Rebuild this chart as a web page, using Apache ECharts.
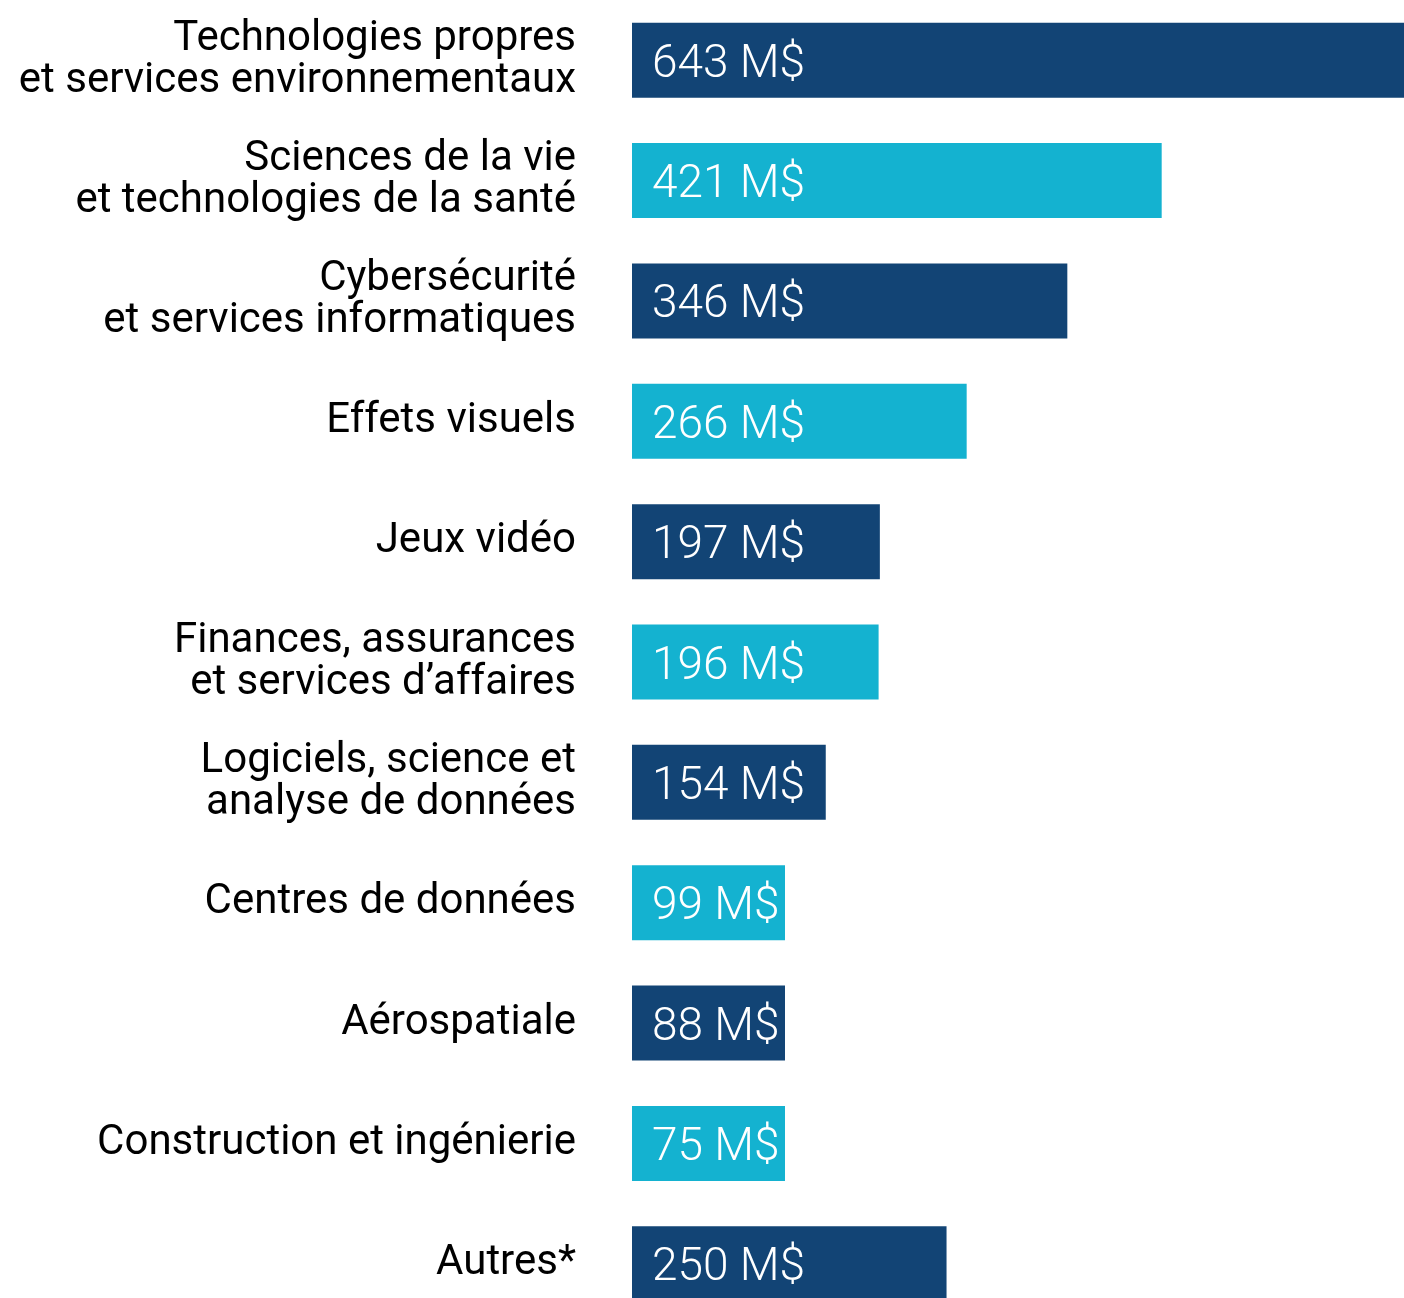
<!DOCTYPE html>
<html>
<head>
<meta charset="utf-8">
<script src="https://cdn.jsdelivr.net/npm/echarts@6/dist/echarts.min.js"></script>
<style>
  html, body { margin: 0; padding: 0; background: #fff; }
  #chart { width: 1404px; height: 1298px; }
</style>
</head>
<body>
<div id="chart"></div>
<script>
const categories = [
    'Technologies propres\net services environnementaux',
    'Sciences de la vie\net technologies de la santé',
    'Cybersécurité\net services informatiques',
    'Effets visuels',
    'Jeux vidéo',
    'Finances, assurances\net services d’affaires',
    'Logiciels, science et\nanalyse de données',
    'Centres de données',
    'Aérospatiale',
    'Construction et ingénierie',
    'Autres*'
];
const values = [643, 421, 346, 266, 197, 196, 154, 99, 88, 75, 250];
const unit = ' M$';

const barColors = ['#124475', '#14b2d0'];

const chart = echarts.init(document.getElementById('chart'));

chart.setOption({
    backgroundColor: '#fff',
    animation: false,
    grid: {
        left: 632,
        top: 0,
        width: 809,
        height: 1324,
        containLabel: false,
        outerBoundsMode: 'none'
    },
    xAxis: {
        type: 'value',
        min: 0,
        max: 643,
        show: false
    },
    yAxis: {
        type: 'category',
        inverse: true,
        data: categories,
        axisLine: { show: false },
        axisTick: { show: false },
        axisLabel: {
            margin: 56,
            color: '#000',
            fontFamily: 'Roboto',
            fontSize: 42,
            lineHeight: 42,
            align: 'right',
            padding: [8, 0, 0, 0]
        }
    },
    series: [{
        type: 'bar',
        barWidth: 75,
        barMinHeight: 153,
        data: values.map((v, i) => ({
            value: v,
            itemStyle: { color: barColors[i % 2] }
        })),
        label: {
            show: true,
            position: 'insideLeft',
            distance: 20,
            offset: [0, 5],
            color: '#fff',
            fontFamily: 'Roboto',
            fontWeight: 300,
            fontSize: 46,
            formatter: p => p.value + unit
        }
    }]
});
</script>
</body>
</html>
